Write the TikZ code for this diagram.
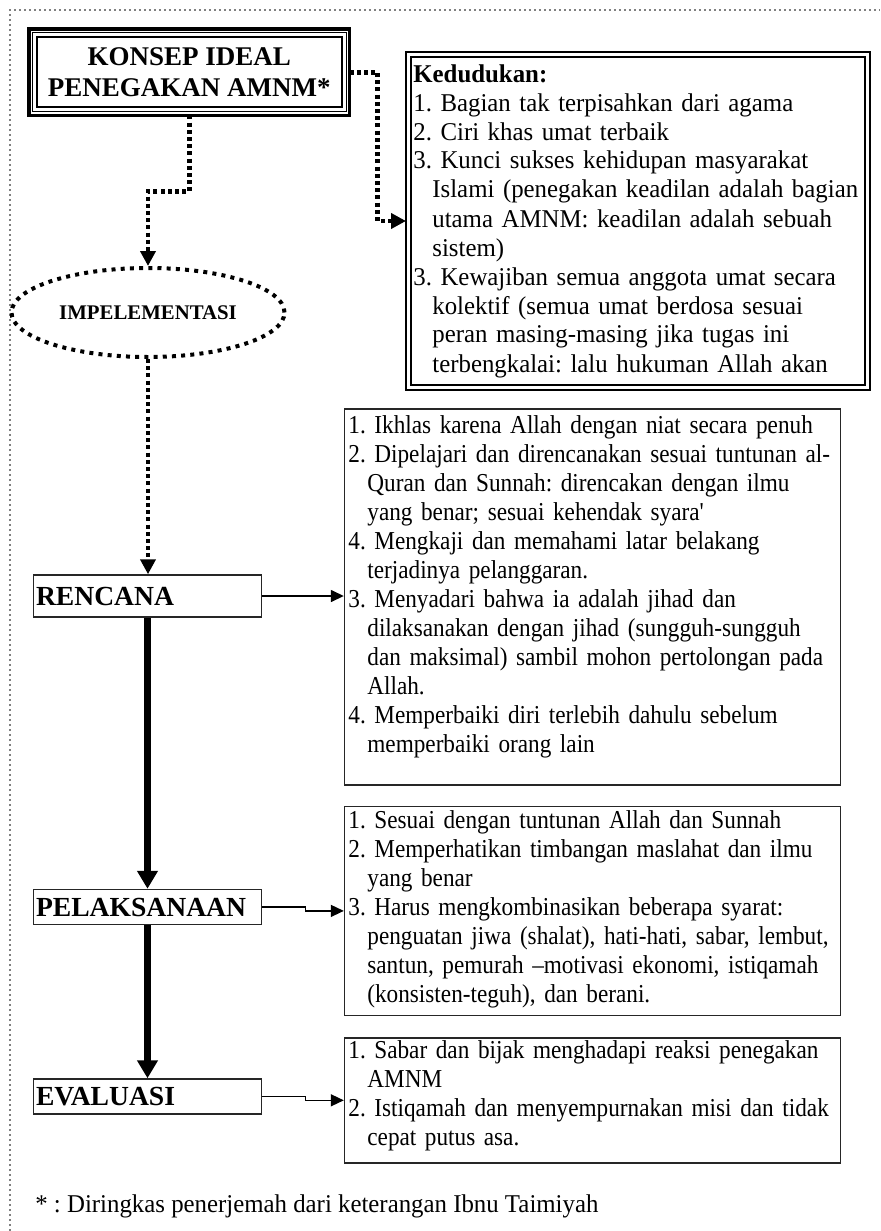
\documentclass[tikz,border=0pt]{standalone}
\usepackage{fontspec}
\setmainfont{Liberation Serif}
\newfontfamily\listfont{Liberation Serif}[FakeStretch=0.9,Ligatures=TeX]
\newfontfamily\kedfont{Liberation Serif}[FakeStretch=0.97,Ligatures=TeX]
\usetikzlibrary{arrows.meta,shapes.geometric,positioning}
\newcommand{\indnt}{\hspace*{9.5pt}}
\frenchspacing

\begin{document}
\begin{tikzpicture}[x=0.5pt,y=-0.5pt]
	\tikzstyle{FrameStyle}    = [gray, line width=0.8pt, dash pattern=on 0.8pt off 1.7pt]
	\tikzstyle{StageStyle}    = [draw=black!85, line width=0.75pt, minimum width=114pt, text width=111.5pt, inner xsep=1.25pt, inner ysep=0pt, align=left, font=\fontsize{13.8}{16}\selectfont\bfseries]
	\tikzstyle{BoxStyle}      = [draw=black!85, line width=0.7pt, inner sep=0pt, minimum width=248pt]
	\tikzstyle{ListStyle}     = [anchor=base west, inner sep=0pt, text width=300pt, align=left, font=\listfont\fontsize{12.9}{14.5}\selectfont]
	\tikzstyle{NoteStyle}     = [anchor=base west, inner sep=0pt, font=\kedfont\fontsize{12.8}{14.5}\selectfont]
	\tikzstyle{DotEdgeStyle}  = [line width=2.4pt, dash pattern=on 2pt off 1.6pt, -{Triangle[length=7.5pt,width=7.5pt]}]
	\tikzstyle{MainEdgeStyle} = [line width=3.5pt, -{Triangle[length=9pt,width=10pt]}]
	\tikzstyle{SideEdgeStyle} = [line width=0.75pt, -{Triangle[length=6.5pt,width=6pt]}]

	\useasboundingbox (0,0) rectangle (880,1231);
	\draw[FrameStyle] (10,1231) -- (10,10) -- (880,10);

	\node[draw, line width=1.75pt, outer sep=0pt, inner sep=0pt, minimum width=160.4pt, minimum height=43.2pt, align=center, font=\fontsize{13.5}{15.5}\selectfont\bfseries] (konsep) at (189.3,72.2) {KONSEP IDEAL\\PENEGAKAN AMNM*};
	\draw[line width=0.5pt] ([shift={(3.5,3.5)}]konsep.north west) rectangle ([shift={(-3.5,-3.5)}]konsep.south east);
	\draw[line width=1pt] ([shift={(8,8)}]konsep.north west) rectangle ([shift={(-8,-8)}]konsep.south east);

	\node[draw, line width=1pt, outer sep=0pt, inner sep=0pt, minimum width=232pt, minimum height=169pt] (kedudukan) at (638,221) {};
	\draw[line width=0.75pt] ([shift={(5,5)}]kedudukan.north west) rectangle ([shift={(-5,-5)}]kedudukan.south east);
	\node[ListStyle, font=\kedfont\fontsize{12.8}{14.5}\selectfont] (kedtext) at (413,82) {\textbf{Kedudukan:}\\
		1. Bagian tak terpisahkan dari agama\\
		2. Ciri khas umat terbaik\\
		3. Kunci sukses kehidupan masyarakat\\
		\indnt Islami (penegakan keadilan adalah bagian\\
		\indnt utama AMNM: keadilan adalah sebuah\\
		\indnt sistem)\\
		3. Kewajiban semua anggota umat secara\\
		\indnt kolektif (semua umat berdosa sesuai\\
		\indnt peran masing-masing jika tugas ini\\
		\indnt terbengkalai: lalu hukuman Allah akan};

	\node[ellipse, draw, line width=2pt, dash pattern=on 2pt off 2.6pt, inner sep=0pt, minimum width=136.5pt, minimum height=44.5pt, font=\fontsize{10.4}{13}\selectfont\bfseries] (impl) at (148,312.5) {IMPELEMENTASI};

	\node[StageStyle, minimum height=21pt] (rencana) at (147.5,596) {RENCANA};
	\node[StageStyle, minimum height=17.5pt, below=135.5pt of rencana] (pelaksanaan) {PELAKSANAAN};
	\node[StageStyle, minimum height=17.5pt, below=76.5pt of pelaksanaan] (evaluasi) {EVALUASI};

	\node[BoxStyle, minimum height=188pt] (planbox) at (592.5,597) {};
	\node[BoxStyle, minimum height=104.5pt, below=10pt of planbox] (actbox) {};
	\node[BoxStyle, minimum height=62.5pt, below=10.5pt of actbox] (evalbox) {};

	\node[ListStyle] (plantext) at (348,433) {1. Ikhlas karena Allah dengan niat secara penuh\\
		2. Dipelajari dan direncanakan sesuai tuntunan al-\\
		\indnt Quran dan Sunnah: direncakan dengan ilmu\\
		\indnt yang benar; sesuai kehendak syara\textquotesingle\\
		4. Mengkaji dan memahami latar belakang\\
		\indnt terjadinya pelanggaran.\\
		3. Menyadari bahwa ia adalah jihad dan\\
		\indnt dilaksanakan dengan jihad (sungguh-sungguh\\
		\indnt dan maksimal) sambil mohon pertolongan pada\\
		\indnt Allah.\\
		4. Memperbaiki diri terlebih dahulu sebelum\\
		\indnt memperbaiki orang lain};
	\node[ListStyle] (acttext) at (348,828) {1. Sesuai dengan tuntunan Allah dan Sunnah\\
		2. Memperhatikan timbangan maslahat dan ilmu\\
		\indnt yang benar\\
		3. Harus mengkombinasikan beberapa syarat:\\
		\indnt penguatan jiwa (shalat), hati-hati, sabar, lembut,\\
		\indnt santun, pemurah --motivasi ekonomi, istiqamah\\
		\indnt (konsisten-teguh), dan berani.};
	\node[ListStyle] (evaltext) at (348,1058) {1. Sabar dan bijak menghadapi reaksi penegakan\\
		\indnt AMNM\\
		2. Istiqamah dan menyempurnakan misi dan tidak\\
		\indnt cepat putus asa.};

	\node[NoteStyle] (note) at (35,1212) {* : Diringkas penerjemah dari keterangan Ibnu Taimiyah};

	\draw[DotEdgeStyle] (konsep.east) -- ++(28,0) |- (kedudukan.west);
	\draw[DotEdgeStyle] (konsep.south) -- ++(0,76) -| (impl.north);
	\draw[DotEdgeStyle] (impl.south) -- (impl.south |- rencana.north);
	\draw[MainEdgeStyle] (rencana) -- (pelaksanaan);
	\draw[MainEdgeStyle] (pelaksanaan) -- (evaluasi);
	\draw[SideEdgeStyle] (rencana.east) -- (rencana.east -| planbox.west);
	\draw[SideEdgeStyle] (pelaksanaan.east) -- ++(43,0) |- (actbox.west);
	\draw[SideEdgeStyle] (evaluasi.east) -- ++(43,0) |- (evalbox.west);
\end{tikzpicture}
\end{document}
